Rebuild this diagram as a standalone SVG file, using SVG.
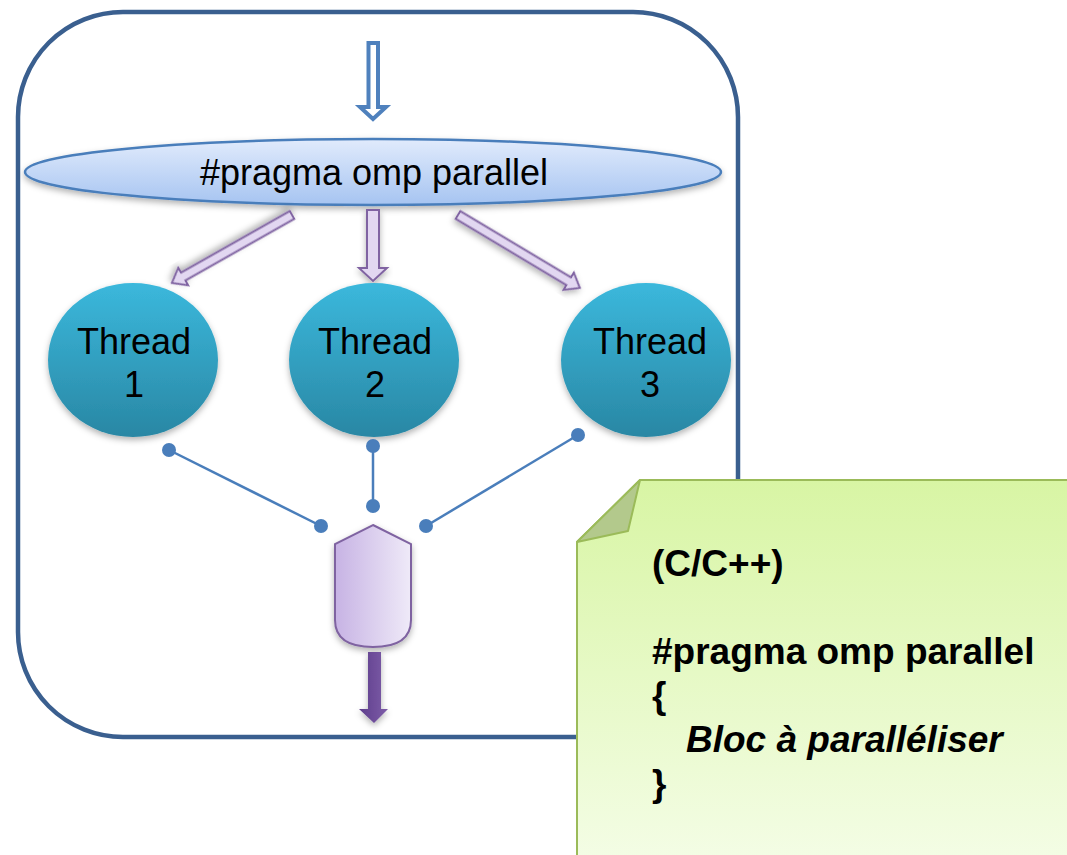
<svg xmlns="http://www.w3.org/2000/svg" width="1067" height="855" viewBox="0 0 1067 855">
  <defs>
    <linearGradient id="gEllipse" x1="0" y1="0" x2="0" y2="1">
      <stop offset="0" stop-color="#e1ebfc"/>
      <stop offset="1" stop-color="#a6c4f1"/>
    </linearGradient>
    <linearGradient id="gThread" x1="0" y1="0" x2="0" y2="1">
      <stop offset="0" stop-color="#3bb8dc"/>
      <stop offset="1" stop-color="#2987a4"/>
    </linearGradient>
    <linearGradient id="gMerge" x1="0" y1="0" x2="1" y2="0">
      <stop offset="0" stop-color="#c7b3e4"/>
      <stop offset="1" stop-color="#efeaf8"/>
    </linearGradient>
    <linearGradient id="gOut" x1="0" y1="0" x2="1" y2="0">
      <stop offset="0" stop-color="#5f3f8c"/>
      <stop offset="1" stop-color="#7d5ca8"/>
    </linearGradient>
    <linearGradient id="gNote" x1="0" y1="0" x2="0" y2="1">
      <stop offset="0" stop-color="#d8f5a4"/>
      <stop offset="1" stop-color="#f4fde6"/>
    </linearGradient>
    <filter id="shadow" x="-20%" y="-20%" width="140%" height="150%">
      <feDropShadow dx="0" dy="3" stdDeviation="3" flood-color="#000" flood-opacity="0.3"/>
    </filter>
    <style>
      .frame { fill: none; stroke: #3a5f8f; stroke-width: 4.5; }
      .label { font-family: "Liberation Sans", Arial, sans-serif; font-size: 36px; fill: #000; text-anchor: middle; }
      .thread { fill: url(#gThread); filter: url(#shadow); }
      .fork { fill: #e2d7f1; stroke: #8064a2; stroke-width: 2; filter: url(#shadow); }
      .link { stroke: #4a7ebb; stroke-width: 2.5; fill: none; }
      .dot { fill: #4a7ebb; }
      .code { font-family: "Liberation Sans", Arial, sans-serif; font-size: 37px; font-weight: bold; fill: #000; }
    </style>
  </defs>

  <!-- parallel region frame -->
  <rect id="frame" class="frame" x="18" y="12" width="720" height="725" rx="105" ry="105"/>

  <!-- entry arrow -->
  <g id="entry">
    <path d="M368.5,43 L378,43 L378,107 L386,107 L373,119 L360,107 L368.5,107 Z" fill="#fff" stroke="#4f81bd" stroke-width="4" stroke-linejoin="miter"/>
  </g>

  <!-- directive -->
  <g id="directive">
    <ellipse cx="373" cy="172" rx="348" ry="33" fill="url(#gEllipse)" stroke="#4a7ebb" stroke-width="2.5" filter="url(#shadow)"/>
    <text class="label" x="374" y="185" font-size="36.8">#pragma omp parallel</text>
  </g>

  <!-- fork arrows -->
  <g id="fork">
    <path class="fork" d="M367,210 L379,210 L379,268 L387,268 L373,281 L359,268 L367,268 Z"/>
    <path class="fork" transform="translate(292,215) rotate(150.5)" d="M0,-4.5 L125,-4.5 L125,-10 L138,0 L125,10 L125,4.5 L0,4.5 Z"/>
    <path class="fork" transform="translate(458,215) rotate(30.9)" d="M0,-4.5 L129,-4.5 L129,-10 L142,0 L129,10 L129,4.5 L0,4.5 Z"/>
  </g>

  <!-- threads -->
  <g id="thread1">
    <ellipse class="thread" cx="133" cy="360" rx="85" ry="77"/>
    <text class="label" x="134" y="354">Thread</text>
    <text class="label" x="134" y="397">1</text>
  </g>
  <g id="thread2">
    <ellipse class="thread" cx="374" cy="360" rx="85" ry="77"/>
    <text class="label" x="375" y="354">Thread</text>
    <text class="label" x="375" y="397">2</text>
  </g>
  <g id="thread3">
    <ellipse class="thread" cx="646" cy="360" rx="85" ry="77"/>
    <text class="label" x="650" y="354">Thread</text>
    <text class="label" x="650" y="397">3</text>
  </g>

  <!-- join connectors -->
  <g id="connectors">
    <line class="link" x1="169" y1="450" x2="321" y2="526"/>
    <line class="link" x1="373" y1="446" x2="373" y2="506"/>
    <line class="link" x1="578" y1="435" x2="426" y2="526"/>
    <circle class="dot" cx="169" cy="450" r="7"/>
    <circle class="dot" cx="321" cy="526" r="7"/>
    <circle class="dot" cx="373" cy="446" r="7"/>
    <circle class="dot" cx="373" cy="506" r="7"/>
    <circle class="dot" cx="578" cy="435" r="7"/>
    <circle class="dot" cx="426" cy="526" r="7"/>
  </g>

  <!-- join -->
  <g id="join">
    <path d="M373,525 L411,544 L411,620 Q411,647 373,647 Q335,647 335,620 L335,544 Z" fill="url(#gMerge)" stroke="#7f63a1" stroke-width="2" filter="url(#shadow)"/>
  </g>

  <!-- exit arrow -->
  <g id="exit">
    <path d="M368,652 L381,652 L381,709 L388,709 L374,723 L359,709 L368,709 Z" fill="url(#gOut)" filter="url(#shadow)"/>
  </g>

  <!-- code note -->
  <g id="note">
    <path d="M640,480 L1075,480 L1075,865 L577,865 L577,542 Z" fill="url(#gNote)" stroke="#9bbb59" stroke-width="2"/>
    <path d="M640,480 L628,531 L577,542 Z" fill="#b3c98c" stroke="#9bbb59" stroke-width="2" stroke-linejoin="round"/>
    <text class="code" x="652" y="576">(C/C++)</text>
    <text class="code" x="652" y="664">#pragma omp parallel</text>
    <text class="code" x="652" y="708">{</text>
    <text class="code" x="686" y="752" font-style="italic">Bloc à paralléliser</text>
    <text class="code" x="652" y="796">}</text>
  </g>
</svg>
